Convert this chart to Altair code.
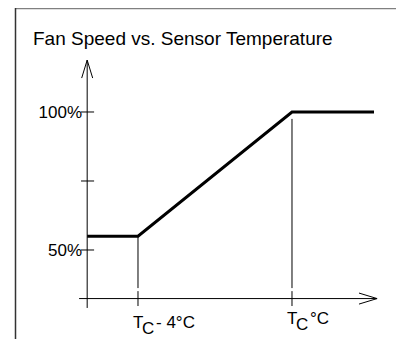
import altair as alt
import pandas as pd

# ---- data (temperature offset from Tc in °C, fan speed in %) ----
curve_x = [-5.32, -4.0, 0.0, 2.13]
curve_y = [55, 55, 100, 100]

tick_pct = [50, 75, 100]
tick_label = ["50%", "", "100%"]

temp_ticks = [-4.0, 0.0]
temp_sub = ["C", "C"]
temp_rest = ["- 4°C", "°C"]
temp_label_y = [21.7, 23.2]
vline_top = [55, 97.5]

# axes geometry in data units
y_axis_x = -5.32
y_axis_lo, y_axis_hi = 29.0, 118.8
x_axis_y = 32.4
x_axis_lo, x_axis_hi = -5.53, 2.21

W, H = 388, 331
X_DOM = [-7.3766, -7.3766 + W / 38.5]
Y_DOM = [137.68 - H / 2.76, 137.68]

xs = alt.Scale(domain=X_DOM, range=[0, W], nice=False, zero=False)
ys = alt.Scale(domain=Y_DOM, range=[H, 0], nice=False, zero=False)

segs = []
# y axis + arrow
segs.append((y_axis_x, y_axis_lo, y_axis_x, y_axis_hi))
segs.append((y_axis_x, y_axis_hi, y_axis_x - 0.143, 112.3))
segs.append((y_axis_x, y_axis_hi, y_axis_x + 0.143, 112.3))
# x axis + arrow
segs.append((x_axis_lo, x_axis_y, x_axis_hi, x_axis_y))
segs.append((x_axis_hi, x_axis_y, 1.74, x_axis_y + 2.0))
segs.append((x_axis_hi, x_axis_y, 1.74, x_axis_y - 2.0))
# y ticks
for p in tick_pct:
    segs.append((-5.48, p, -5.14, p))
# vertical guides and x ticks
for t, top in zip(temp_ticks, vline_top):
    segs.append((t, top, t, 36.2))
    segs.append((t, 35.1, t, 29.7))

seg_df = pd.DataFrame(segs, columns=["x", "y", "x2", "y2"])
curve_df = pd.DataFrame({"x": curve_x, "y": curve_y})
ylab_df = pd.DataFrame({"y": tick_pct, "t": tick_label, "x": [-5.4545] * 3})
xlab_df = pd.DataFrame({"x": temp_ticks, "y": temp_label_y, "sub": temp_sub, "rest": temp_rest, "T": ["T", "T"]})

FONT = "Liberation Sans"

frame = alt.Chart(pd.DataFrame({"a": [0]})).mark_rule(color="#808080", strokeWidth=1.5).encode(
    x=alt.value(7), x2=alt.value(W), y=alt.value(0.5), y2=alt.value(0.5))
frame_left = alt.Chart(pd.DataFrame({"a": [0]})).mark_rule(color="#333333", strokeWidth=1.5).encode(
    x=alt.value(7.5), x2=alt.value(7.5), y=alt.value(0), y2=alt.value(H))

title = alt.Chart(pd.DataFrame({"t": ["Fan Speed vs. Sensor Temperature"]})).mark_text(
    font=FONT, fontSize=19, align="left", baseline="alphabetic", color="black").encode(
    x=alt.value(25), y=alt.value(36.5), text="t:N")

rules = alt.Chart(seg_df).mark_rule(color="black", strokeWidth=1).encode(
    x=alt.X("x:Q", scale=xs, axis=None), y=alt.Y("y:Q", scale=ys, axis=None),
    x2="x2:Q", y2="y2:Q")

line = alt.Chart(curve_df).mark_line(color="black", strokeWidth=3).encode(
    x=alt.X("x:Q", scale=xs, axis=None), y=alt.Y("y:Q", scale=ys, axis=None))

ylabs = alt.Chart(ylab_df).mark_text(font=FONT, fontSize=17, align="right", baseline="alphabetic", dy=6).encode(
    x=alt.X("x:Q", scale=xs, axis=None), y=alt.Y("y:Q", scale=ys, axis=None), text="t:N")

xT = alt.Chart(xlab_df).mark_text(font=FONT, fontSize=17, align="left", baseline="alphabetic", dx=-5).encode(
    x=alt.X("x:Q", scale=xs, axis=None), y=alt.Y("y:Q", scale=ys, axis=None), text="T:N")
xC = alt.Chart(xlab_df).mark_text(font=FONT, fontSize=17, align="left", baseline="alphabetic", dx=4, dy=6).encode(
    x=alt.X("x:Q", scale=xs, axis=None), y=alt.Y("y:Q", scale=ys, axis=None), text="sub:N")
xR = alt.Chart(xlab_df).mark_text(font=FONT, fontSize=17, align="left", baseline="alphabetic", dx=18).encode(
    x=alt.X("x:Q", scale=xs, axis=None), y=alt.Y("y:Q", scale=ys, axis=None), text="rest:N")

chart = alt.layer(frame, frame_left, title, rules, line, ylabs, xT, xC, xR).properties(
    width=W, height=H, padding=0, autosize=alt.AutoSizeParams(type="none"),
    background="white").configure_view(stroke=None)

chart.save("out.html", embed_options={"renderer": "svg", "actions": False})
